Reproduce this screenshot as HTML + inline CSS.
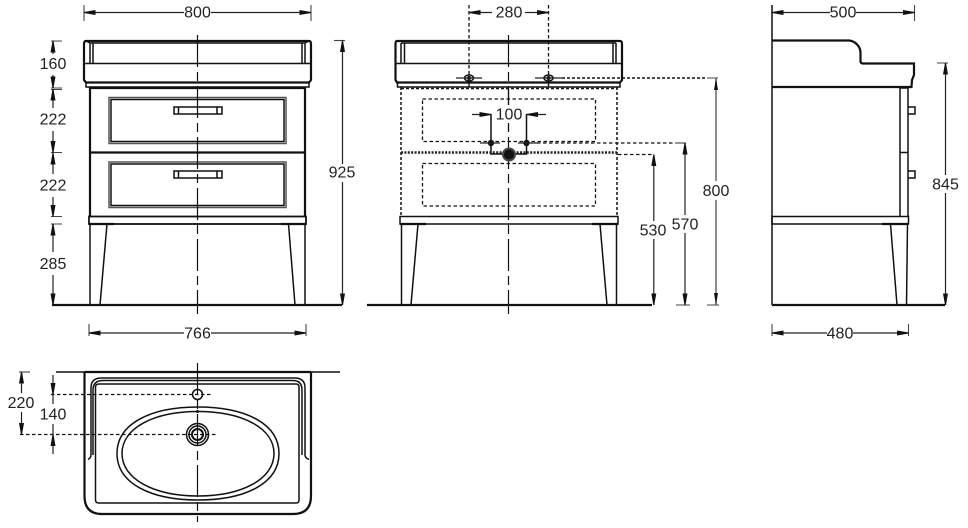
<!DOCTYPE html>
<html><head><meta charset="utf-8"><style>
html,body{margin:0;padding:0;background:#fff}
svg{display:block}
text{font-family:"Liberation Sans",sans-serif;font-size:16px;fill:#222;text-anchor:middle;dominant-baseline:central;transform:translateY(.8px)}
.l{fill:none;stroke:#111;stroke-width:1.5}
.b{fill:none;stroke:#111;stroke-width:2.2}
.g{fill:none;stroke:#444;stroke-width:1.1}
.d{fill:none;stroke:#222;stroke-width:1.2}
.c{fill:none;stroke:#111;stroke-width:1.2;stroke-dasharray:32 5 9 5}
.dot{fill:none;stroke:#111;stroke-width:1.5;stroke-dasharray:3 2}
.dot2{fill:none;stroke:#222;stroke-width:2.4;stroke-dasharray:2 1.4}
.da{fill:none;stroke:#111;stroke-width:1.3;stroke-dasharray:3.5 2.5}
.bg{fill:#fff}
</style></head><body>
<svg width="968" height="528" viewBox="0 0 968 528" xmlns="http://www.w3.org/2000/svg">
<defs>
<marker id="a" markerUnits="userSpaceOnUse" markerWidth="12" markerHeight="7" refX="11.500" refY="3.500" orient="auto-start-reverse"><path d="M0 1L11.500 3L11.500 4L0 6Z" fill="#111"/></marker>
</defs>
<rect width="968" height="528" fill="#fff"/>

<!-- FRONT VIEW 1 -->
<g>
<path class="b" d="M86 41H309Q311 41 311 44V80L309 82.500H86L84 80V44Q84 41 86 41Z"/>
<path class="l" d="M84 63.500H311M86 82.500V87H309V82.500"/>
<path class="l" d="M90 43H305M90 43V63M93 43V63M305 43V63M302 43V63M86 41L90 43M309 41L305 43"/>
<path class="b" d="M90 87V217M305 87V217"/>
<path class="b" d="M90 88H305"/>
<rect x="109" y="97.500" width="177" height="46" fill="none" stroke="#555" stroke-width="1.500"/>
<rect x="111" y="99.500" width="173" height="42" class="l"/>
<rect x="109" y="162" width="177" height="45.500" fill="none" stroke="#555" stroke-width="1.500"/>
<rect x="111" y="164" width="173" height="41.500" class="l"/>
<path class="b" d="M90 152.500H305" />
<rect x="174" y="107" width="48" height="7" class="l"/>
<path class="l" d="M178.500 107V114M217 107V114"/>
<rect x="174" y="171" width="48" height="7" class="l"/>
<path class="l" d="M178.500 171V178M217 171V178"/>
<rect x="89" y="216.500" width="217" height="7.500" class="b" style="stroke-width:1.800"/>
<path class="b" d="M89 224H114M281 224H306"/>
<path class="l" d="M90 224V305M107 224L100 305M288.500 224L295 305M305 224V305"/>
<path class="b" d="M52 305H342"/>
<path class="c" d="M197.500 35V314"/>
<path class="g" d="M84 5V21M311 5V21M89 324V336M306 324V336"/>
<path class="d" d="M84 12.500H184" marker-start="url(#a)"/>
<path class="d" d="M211 12.500H311" marker-end="url(#a)"/>
<text x="197.500" y="12">800</text>
<path class="d" d="M89 333H184" marker-start="url(#a)"/>
<path class="d" d="M211 333H306" marker-end="url(#a)"/>
<text x="197.500" y="333">766</text>
<path class="g" d="M51 41H62M51 88H62M51 89.500H62M51 152.500H62M51 216.500H62M51 224H62"/>
<path class="d" d="M53 41V54" marker-start="url(#a)"/>
<path class="d" d="M53 75V88" marker-end="url(#a)"/>
<text x="53" y="63.500">160</text>
<path class="d" d="M53 89V108" marker-start="url(#a)"/>
<path class="d" d="M53 131V152.500" marker-end="url(#a)"/>
<text x="53" y="119">222</text>
<path class="d" d="M53 153V174" marker-start="url(#a)"/>
<path class="d" d="M53 197V216.500" marker-end="url(#a)"/>
<text x="53" y="185">222</text>
<path class="d" d="M53 224V252" marker-start="url(#a)"/>
<path class="d" d="M53 275V305" marker-end="url(#a)"/>
<text x="53" y="263.500">285</text>
<path class="g" d="M334 40.500H345"/>
<path class="d" d="M342.500 40.500V164" marker-start="url(#a)"/>
<path class="d" d="M342.500 182V305" marker-end="url(#a)"/>
<text x="342" y="172">925</text>
</g>

<!-- FRONT VIEW 2 -->
<g>
<path class="b" d="M397 41H620Q622 41 622 44V80L620 82.500H397L395.500 80V44Q395.500 41 397 41Z"/>
<path class="l" d="M395.500 63.500H622M397.500 82.500V87H620V82.500"/>
<path class="l" d="M401 43H616M401 43V63M404.500 43V63M616 43V63M613 43V63"/>
<path class="dot" d="M401 87V216M617 87V216"/>
<path class="dot" d="M401 88.500H617"/>
<path class="da" d="M422.500 99H595.500V141.500H422.500Z"/>
<path class="da" d="M422.500 163.500H595.500V206H422.500Z"/>
<path class="dot2" d="M401 152.500H617"/>
<rect x="400" y="216.500" width="218" height="7.500" class="l"/>
<path class="b" d="M400 224H426M592 224H618"/>
<path class="l" d="M401.500 224V305M418 224L411 305M600 224L607 305M616.500 224V305"/>
<path class="b" d="M367 305H652"/>
<path class="c" d="M508.500 35V314"/>
<path class="da" d="M469 5V88M548.500 5V88"/>
<path class="d" d="M469 12.500H492" marker-start="url(#a)"/>
<path class="d" d="M525 12.500H548.500" marker-end="url(#a)"/>
<text x="509" y="12">280</text>
<ellipse cx="469" cy="78" rx="4.500" ry="3" class="l"/><circle cx="469" cy="78" r="2" fill="#111"/>
<ellipse cx="548.500" cy="78" rx="4.500" ry="3" class="l"/><circle cx="548.500" cy="78" r="2" fill="#111"/>
<path class="d" d="M456 78H482M535 78H562"/>
<path class="dot" d="M562 78H707"/>
<path class="g" d="M707 78H718M676 305H690M707 305H719"/>
<path fill="none" stroke="#666" stroke-width="1.500" d="M716 78V181M716 200V305"/>
<path d="M716 78L714 90H718ZM716 305L714 293H718Z" fill="#111"/>
<text x="716" y="190.500">800</text>
<path class="d" d="M472 114.500H491" marker-end="url(#a)"/>
<path class="d" d="M546 114.500H526.500" marker-end="url(#a)"/>
<path class="l" d="M491 114V154H503M526.500 114V154H515"/>
<path class="c" d="M508.500 88V130" />
<rect x="495" y="105" width="28" height="18" class="bg"/>
<text x="509" y="114">100</text>
<circle cx="491" cy="143" r="3.200" fill="#111"/>
<circle cx="526.500" cy="143" r="3.200" fill="#111"/>
<path class="d" d="M480 143H500M518 143H537"/>
<path class="da" d="M537 143H675"/>
<circle cx="509" cy="154.500" r="7" fill="#444"/>
<circle cx="509" cy="154.500" r="5" fill="#111"/>
<path class="g" d="M675 143H686"/>
<path class="d" d="M685 143V215" marker-start="url(#a)"/>
<path class="d" d="M685 233V305" marker-end="url(#a)"/>
<text x="685" y="224">570</text>
<path class="da" d="M618 154.500H654"/>
<path class="d" d="M653.800 154.500V221" marker-start="url(#a)"/>
<path class="d" d="M653.800 239V305" marker-end="url(#a)"/>
<text x="653" y="230">530</text>
</g>

<!-- SIDE VIEW -->
<g>
<path class="l" d="M772 5V305"/>
<path class="b" d="M772 40.500H849C855 41 860 46 860.500 52V61Q860.500 63.500 863 63.500H914V75L912 80L911.500 87H772"/>
<path class="l" d="M900 88V217M908 88V217M900 88H908M900 152.500H908"/>
<path class="l" d="M908 107H915V114H908M908 171H915V178H908"/>
<rect x="772" y="216.500" width="136.500" height="7.500" class="l"/>
<path class="b" d="M882 224H908"/>
<path class="l" d="M890.500 224L897 305M907.500 224L906.500 305"/>
<path class="b" d="M772 305H945"/>
<path class="g" d="M914.500 5V21M772 324V336M908.500 324V336M937 63H948"/>
<path class="d" d="M772 12.500H830" marker-start="url(#a)"/>
<path class="d" d="M856 12.500H914.500" marker-end="url(#a)"/>
<text x="843" y="12">500</text>
<path class="d" d="M772 333H827" marker-start="url(#a)"/>
<path class="d" d="M853 333H908.500" marker-end="url(#a)"/>
<text x="840" y="333">480</text>
<path class="d" d="M945.500 63V175" marker-start="url(#a)"/>
<path class="d" d="M945.500 193V305" marker-end="url(#a)"/>
<text x="945.500" y="184">845</text>
</g>

<!-- TOP VIEW -->
<g>
<path class="l" d="M56 372H340"/>
<path class="b" d="M84.500 372V496Q84.500 514 102 514H293Q311 514 311 496V372"/>
<path class="b" d="M84.500 372H311"/>
<path class="l" d="M88 459.500Q91 458 91 455V388Q91 378 101 378H295Q305 378 305 388V455Q305 458 309 459.500"/>
<path class="l" d="M93 455V390Q93 380.500 103 380.500H293Q302 380.500 302 390V455"/>
<path class="l" d="M99 384H296Q299 384 299 387V500Q299 503 296 503H99Q95.500 503 95.500 500V387Q95.500 384 99 384Z"/>
<path class="l" d="M117 453.500C117 424 150 407 198 407C246 407 279 424 279 453.500C279 483 246 500 198 500C150 500 117 483 117 453.500Z"/>
<path class="l" d="M122 453.500C122 428 154 411.500 198 411.500C242 411.500 274 428 274 453.500C274 479 242 496 198 496C154 496 122 479 122 453.500Z"/>
<circle cx="197.500" cy="394.500" r="5" class="l"/>
<circle cx="197.500" cy="434.500" r="11" class="l"/>
<circle cx="197.500" cy="434.500" r="8.500" class="l"/>
<circle cx="197.500" cy="434.500" r="5.500" class="l" style="stroke-width:2"/>
<circle cx="197.500" cy="411.500" r="1.500" fill="#111"/>
<path class="c" d="M197.500 363V522"/>
<path class="da" d="M51 394.500H211M20 434.500H217"/>
<path class="g" d="M19 372H30"/>
<path class="d" d="M21.500 372V393" marker-start="url(#a)"/>
<path class="d" d="M21.500 412V434.500" marker-end="url(#a)"/>
<text x="21" y="402.500">220</text>
<path class="d" d="M53 375V394.500" marker-end="url(#a)"/>
<path class="d" d="M53 454V434.500" marker-end="url(#a)"/>
<path class="d" d="M53 394.500V404M53 424V434.500"/>
<text x="53" y="414">140</text>
</g>
</svg>
</body></html>
